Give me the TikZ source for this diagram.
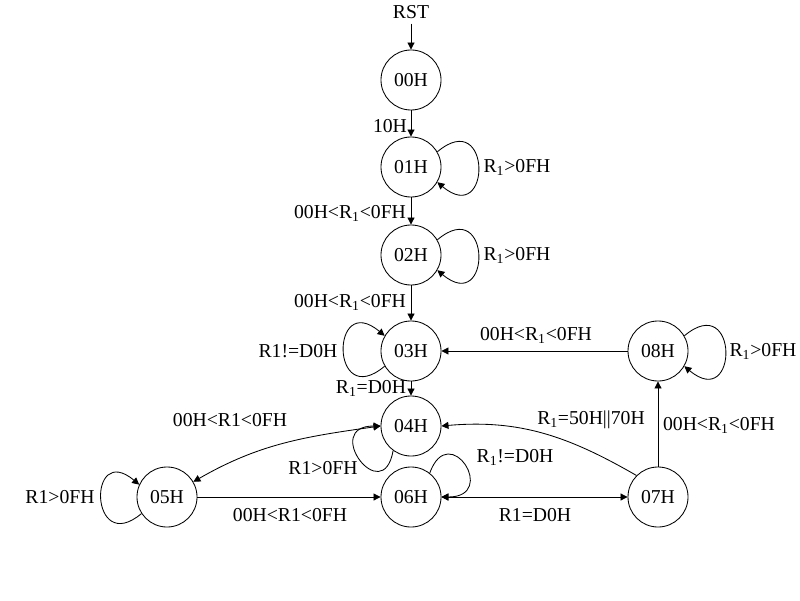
\documentclass[tikz,border=0pt]{standalone}
\usepackage{fontspec}
\setmainfont{Liberation Serif}
\usetikzlibrary{arrows.meta}
\tikzset{
    state/.style={shape=circle, draw=black, minimum size=1.5cm, inner sep=0pt, line width=0.6pt},
    stmarrow/.style={-{Triangle[length=5pt,width=5pt]}, line width=0.6pt},
    twoway/.style={{Triangle[length=5pt,width=5pt]}-{Triangle[length=5pt,width=5pt]}, line width=0.6pt}
}
\newcommand{\Rone}{R\textsubscript{1}}

\begin{document}
\begin{tikzpicture}[x=0.025cm, y=0.025cm, font=\fontsize{14}{16}\selectfont]
    \useasboundingbox (0,0) rectangle (800,600);
    \node (rst) at (411,588) {RST};
    \node[state] (s0) at (411,520) {00H};
    \node[state] (s1) at (411,433) {01H};
    \node[state] (s2) at (411,345) {02H};
    \node[state] (s3) at (411,249) {03H};
    \node[state] (s4) at (411,174) {04H};
    \node[state] (s5) at (167,103) {05H};
    \node[state] (s6) at (411,103) {06H};
    \node[state] (s7) at (658,103) {07H};
    \node[state] (s8) at (658,249) {08H};

    % labels of the straight edges
    \node (l01) at (390,474) {10H};
    \node (l12) at (350,387) {00H<\Rone<0FH};
    \node (l23) at (350,298) {00H<\Rone<0FH};
    \node (l34) at (371,212) {\Rone=D0H};
    \node (l83) at (536,265) {00H<\Rone<0FH};
    \node (l78) at (719,175) {00H<\Rone<0FH};
    \node (l74) at (591,180) {\Rone=50H||70H};
    \node (l45) at (230,180) {00H<R1<0FH};
    \node (l56) at (290,85) {00H<R1<0FH};
    \node (l67) at (535,85) {R1=D0H};

    % labels of the loops
    \node (o1) at (517,433) {\Rone>0FH};
    \node (o2) at (517,345) {\Rone>0FH};
    \node (o8) at (763,249) {\Rone>0FH};
    \node (o3) at (298,249) {R1!=D0H};
    \node (o4) at (323,132) {R1>0FH};
    \node (o6) at (515,143) {\Rone!=D0H};
    \node (o5) at (60,103) {R1>0FH};

    \path [stmarrow](rst) edge (s0);
    \path [stmarrow](s0) edge (s1);
    \path [stmarrow](s1) edge (s2);
    \path [stmarrow](s2) edge (s3);
    \path [stmarrow](s3) edge (s4);
    \path [stmarrow](s8) edge (s3);
    \path [stmarrow](s7) edge (s8);
    \path [stmarrow](s5) edge (s6);
    \path [twoway](s6) edge (s7);
    \path [stmarrow](s7.135) edge[out=150, in=5] (s4.east);
    \path [twoway](s4.west) edge[out=188, in=30] (s5.30);

    \path [stmarrow](s1.30) edge[out=40, in=-40, looseness=6] (s1.-30);
    \path [stmarrow](s2.30) edge[out=40, in=-40, looseness=6] (s2.-30);
    \path [stmarrow](s8.30) edge[out=40, in=-40, looseness=6] (s8.-30);
    \path [stmarrow](s3.-150) edge[out=-140, in=140, looseness=6] (s3.150);
    \path [stmarrow](s5.-147) edge[out=-140, in=140, looseness=6] (s5.156);
    \path [stmarrow](s4.-126) edge[out=-100, in=180, looseness=5.5] (s4.west);
    \path [stmarrow](s6.52) edge[out=70, in=0, looseness=5.5] (s6.east);
\end{tikzpicture}
\end{document}
